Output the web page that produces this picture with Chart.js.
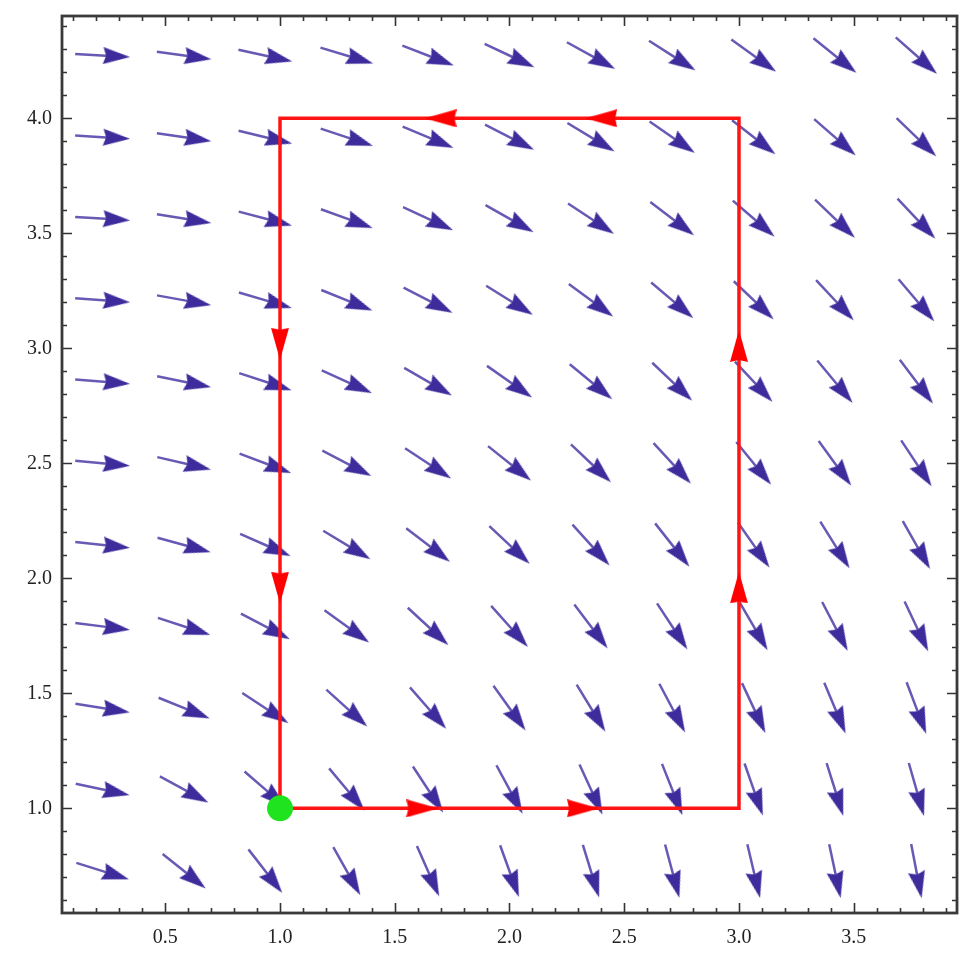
<!DOCTYPE html>
<html><head><meta charset="utf-8">
<script src="https://cdn.jsdelivr.net/npm/chart.js@4"></script>
<style>html,body{margin:0;padding:0;background:#fff;}#wrap{width:960px;height:956px;}</style>
</head><body><div id="wrap"><canvas id="c" width="960" height="956"></canvas></div>
<script>
// ---- data ----
const gridX = [0.227, 0.582, 0.936, 1.291, 1.645, 2.0, 2.355, 2.709, 3.064, 3.418, 3.773];
const gridY = [0.727, 1.082, 1.436, 1.791, 2.145, 2.5, 2.855, 3.209, 3.564, 3.918, 4.273];
// horizontal field component for each row, vertical component for each column
const fieldU = [0.727, 1.082, 1.436, 1.791, 2.145, 2.5, 2.855, 3.209, 3.564, 3.918, 4.273];
const fieldV = [-0.227, -0.582, -0.936, -1.291, -1.645, -2.0, -2.355, -2.709, -3.064, -3.418, -3.773];
// red path (corners) and arrowhead tips along it
const pathX = [1, 3, 3, 1, 1];
const pathY = [1, 1, 4, 4, 1];
const pathHeadX = [1.69, 2.39, 3, 3, 2.33, 1.63, 1, 1];
const pathHeadY = [1, 1, 2.03, 3.08, 4, 4, 2.95, 1.89];
const pathHeadSeg = [0, 0, 1, 1, 2, 2, 3, 3];
const startX = [1];
const startY = [1];
const xTickLabels = ['0.5', '1.0', '1.5', '2.0', '2.5', '3.0', '3.5'];
const yTickLabels = ['1.0', '1.5', '2.0', '2.5', '3.0', '3.5', '4.0'];

// ---- styling helpers ----
function headImage(w, h, notch, color) {
  const c = document.createElement('canvas');
  c.width = w; c.height = h;
  const g = c.getContext('2d');
  g.fillStyle = color;
  g.beginPath();
  g.moveTo(0, 0); g.lineTo(w, h / 2); g.lineTo(0, h); g.lineTo(notch, h / 2);
  g.closePath(); g.fill();
  return c;
}
const blueHead = headImage(27, 17, 3, '#3f2c9c');
const redHead = headImage(32, 18, 2, '#ff0000');

const PXU = 229.5; // approx pixels per data unit (both axes)
const halfLen = 27.5 / PXU;

const shaftData = [], headData = [], headRot = [];
gridY.forEach((yc, r) => {
  gridX.forEach((xc, c) => {
    const u = fieldU[r], v = fieldV[c];
    const m = Math.hypot(u, v);
    const dx = u / m, dy = v / m;
    const tipX = xc + halfLen * dx, tipY = yc + halfLen * dy;
    shaftData.push({x: xc - halfLen * dx, y: yc - halfLen * dy});
    shaftData.push({x: tipX - (20 / PXU) * dx, y: tipY - (20 / PXU) * dy});
    shaftData.push({x: null, y: null});
    headData.push({x: tipX - (13.5 / PXU) * dx, y: tipY - (13.5 / PXU) * dy});
    headRot.push(Math.atan2(-dy, dx) * 180 / Math.PI);
  });
});

const pathData = pathX.map((x, i) => ({x, y: pathY[i]}));
const rHeadData = [], rHeadRot = [];
pathHeadX.forEach((hx, i) => {
  const s = pathHeadSeg[i];
  const ddx = pathX[s + 1] - pathX[s], ddy = pathY[s + 1] - pathY[s];
  const m = Math.hypot(ddx, ddy);
  const dx = ddx / m, dy = ddy / m;
  rHeadData.push({x: hx - (16 / PXU) * dx, y: pathHeadY[i] - (16 / PXU) * dy});
  rHeadRot.push(Math.atan2(-dy, dx) * 180 / Math.PI);
});

const frameTicks = {
  id: 'frameTicks',
  afterDraw(chart) {
    const {ctx, chartArea: a, scales: {x, y}} = chart;
    ctx.save();
    ctx.strokeStyle = '#333';
    ctx.lineWidth = 1.6;
    ctx.beginPath();
    for (let k = 1; k <= 39; k++) {
      const v = k / 10;
      const px = Math.round(x.getPixelForValue(v)) + 0.5;
      const len = (k % 5 === 0) ? 10 : 5;
      ctx.moveTo(px, a.bottom); ctx.lineTo(px, a.bottom - len);
      ctx.moveTo(px, a.top); ctx.lineTo(px, a.top + len);
    }
    for (let k = 6; k <= 44; k++) {
      const v = k / 10;
      const py = Math.round(y.getPixelForValue(v)) + 0.5;
      const len = (k % 5 === 0) ? 10 : 5;
      ctx.moveTo(a.left, py); ctx.lineTo(a.left + len, py);
      ctx.moveTo(a.right, py); ctx.lineTo(a.right - len, py);
    }
    ctx.stroke();
    ctx.lineWidth = 2.8;
    ctx.strokeStyle = '#3a3a3a';
    ctx.strokeRect(a.left, a.top, a.right - a.left, a.bottom - a.top);
    ctx.restore();
  }
};

const tickFont = {family: "'Liberation Serif', 'DejaVu Serif', serif", size: 20};
function zeroPad(s) { s.paddingLeft = 0; s.paddingRight = 0; s.paddingTop = 0; s.paddingBottom = 0; }

new Chart(document.getElementById('c'), {
  type: 'scatter',
  data: {
    datasets: [
      {data: startX.map((x, i) => ({x, y: startY[i]})), pointRadius: 13, pointBackgroundColor: '#1fe31f', pointBorderWidth: 0, order: 0},
      {data: rHeadData, pointStyle: redHead, pointRadius: 5, rotation: rHeadRot, order: 1},
      {data: pathData, showLine: true, borderColor: '#ff1414', borderWidth: 3.5, pointRadius: 0, order: 2},
      {data: headData, pointStyle: blueHead, pointRadius: 5, rotation: headRot, order: 3},
      {data: shaftData, showLine: true, borderColor: 'rgba(66,48,162,0.8)', borderWidth: 2.5, pointRadius: 0, order: 4}
    ]
  },
  options: {
    responsive: false,
    animation: false,
    events: [],
    layout: {autoPadding: false, padding: {top: 16, right: 3, left: 0, bottom: 0}},
    plugins: {legend: {display: false}, tooltip: {enabled: false}},
    scales: {
      x: {
        type: 'linear', min: 0.05, max: 3.95,
        grid: {display: false, drawTicks: false}, border: {display: false},
        afterBuildTicks: s => { s.ticks = xTickLabels.map(t => ({value: parseFloat(t)})); },
        afterFit: s => { s.height = 43; zeroPad(s); },
        ticks: {autoSkip: false, maxRotation: 0, padding: 13, color: '#222', font: tickFont,
          callback: (v, i) => xTickLabels[i]}
      },
      y: {
        type: 'linear', min: 0.545, max: 4.445,
        grid: {display: false, drawTicks: false}, border: {display: false},
        afterBuildTicks: s => { s.ticks = yTickLabels.map(t => ({value: parseFloat(t)})); },
        afterFit: s => { s.width = 62; zeroPad(s); },
        ticks: {autoSkip: false, padding: 10, color: '#222', font: tickFont,
          callback: (v, i) => yTickLabels[i]}
      }
    }
  },
  plugins: [frameTicks]
});
</script>
</body></html>
